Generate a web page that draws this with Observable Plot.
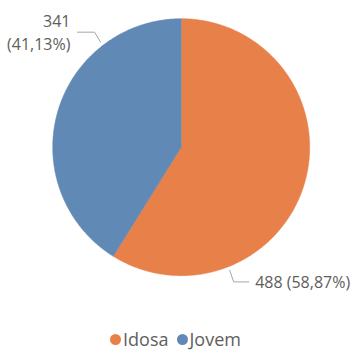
<!DOCTYPE html>
<html>
<head>
<meta charset="utf-8">
<script src="https://cdn.jsdelivr.net/npm/d3@7"></script>
<script src="https://cdn.jsdelivr.net/npm/@observablehq/plot@0.6"></script>
<style>
  html, body { margin: 0; padding: 0; background: #fff; }
  #chart { width: 351px; }
  .legend { display: flex; justify-content: center; align-items: center; height: 30px;
    font-family: "Open Sans", sans-serif; font-size: 18px; color: #605E5C; }
  .legend .item { display: flex; align-items: center; margin: 0 4px; }
  .legend .sw { width: 11px; height: 11px; border-radius: 50%; margin-right: 2px; }
</style>
</head>
<body>
<div id="chart"></div>
<script>
// Data
const categories = ["Idosa", "Jovem"];
const values = [488, 341];
const percentLabels = ["58,87%", "41,13%"];
const colors = ["#E8804A", "#6189B5"];

const W = 351, H = 324;
const cx = 180.7, cy = 146.7, R = 128.5;

// Build slices with d3.pie (clockwise from 12 o'clock)
const pie = d3.pie().sort(null).value(d => d.value);
const rows = categories.map((c, i) => ({category: c, value: values[i], pct: percentLabels[i]}));
const arcs = pie(rows);

// Polygon points for each slice in unit-circle coordinates
const slicePts = [];
arcs.forEach(a => {
  slicePts.push({category: a.data.category, x: 0, y: 0});
  const n = Math.max(2, Math.ceil((a.endAngle - a.startAngle) / 0.01));
  for (let k = 0; k <= n; k++) {
    const t = a.startAngle + (a.endAngle - a.startAngle) * k / n;
    slicePts.push({category: a.data.category, x: Math.sin(t), y: Math.cos(t)});
  }
  slicePts.push({category: a.data.category, x: 0, y: 0});
});

// Leader-line anchor angles (degrees clockwise from top) per category
const leaderAngle = {Idosa: 158.5, Jovem: 322.5};
const leaders = [];
const labelsOut = [];
rows.forEach(r => {
  const ang = leaderAngle[r.category] * Math.PI / 180;
  const sx = 1.03 * Math.sin(ang), sy = 1.03 * Math.cos(ang);
  const right = Math.sin(ang) > 0;
  const ex = sx + (right ? 0.031 : -0.047), ey = sy + (sy < 0 ? -0.09 : 0.078);
  const fx = ex + (right ? 0.117 : -0.134);
  leaders.push({category: r.category, x: sx, y: sy}, {category: r.category, x: ex, y: ey}, {category: r.category, x: fx, y: ey});
  labelsOut.push({category: r.category, right, x: fx + (right ? 0.05 : -0.054), y: ey,
    value: r.value, pct: r.pct});
});

const plot = Plot.plot({
  width: W, height: H,
  margin: 0,
  x: {domain: [-1, 1], range: [cx - R, cx + R], axis: null},
  y: {domain: [-1, 1], range: [cy + R, cy - R], axis: null},
  color: {domain: categories, range: colors},
  style: {fontFamily: "'Open Sans', sans-serif", background: "#fff"},
  marks: [
    Plot.line(slicePts, {x: "x", y: "y", z: "category", fill: "category", stroke: "category", strokeWidth: 0.5, curve: "linear"}),
    Plot.line(leaders, {x: "x", y: "y", z: "category", stroke: "#A6A6A6", strokeWidth: 1}),
    // right-side label: single line
    Plot.text(labelsOut.filter(d => d.right), {x: "x", y: "y", text: d => `${d.value} (${d.pct})`,
      textAnchor: "start", fill: "#605E5C", fontSize: 16, dy: 1}),
    // left-side label: two lines
    Plot.text(labelsOut.filter(d => !d.right), {x: "x", y: "y", text: d => `${d.value}`,
      textAnchor: "end", fill: "#605E5C", fontSize: 16, dy: -10}),
    Plot.text(labelsOut.filter(d => !d.right), {x: "x", y: "y", text: d => `(${d.pct})`,
      textAnchor: "end", fill: "#605E5C", fontSize: 16, dy: 13})
  ]
});
document.getElementById("chart").appendChild(plot);

// Legend
const leg = document.createElement("div");
leg.className = "legend";
categories.forEach((c, i) => {
  const it = document.createElement("div");
  it.className = "item";
  const sw = document.createElement("span");
  sw.className = "sw";
  sw.style.background = colors[i];
  const tx = document.createElement("span");
  tx.textContent = c;
  it.appendChild(sw); it.appendChild(tx);
  leg.appendChild(it);
});
document.getElementById("chart").appendChild(leg);
</script>
</body>
</html>
